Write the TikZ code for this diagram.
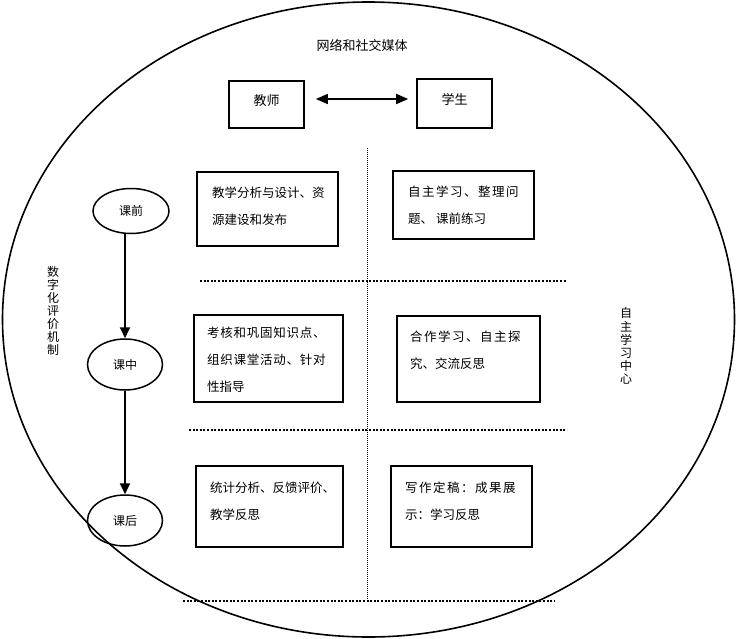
\documentclass[tikz,border=0pt]{standalone}
\usepackage{fontspec}
\setmainfont{Noto Sans CJK SC}
\newfontfamily\cjkw[LetterSpace=12]{Noto Sans CJK SC}
\newfontfamily\cjkm[LetterSpace=6]{Noto Sans CJK SC}
\usetikzlibrary{arrows.meta,shapes.geometric,calc}
\begin{document}
\begin{tikzpicture}[x=1pt,y=-1pt,
  box/.style={draw,line width=1.6pt,inner sep=0pt,rectangle},
  oval/.style={draw,line width=1.5pt,ellipse,inner sep=0pt,minimum width=75pt,minimum height=50pt,font=\fontsize{12}{14}\selectfont},
  txt/.style={inner sep=0pt,anchor=north west,align=left,font=\fontsize{12.5}{27}\selectfont},
  vtxt/.style={inner sep=0pt,align=center,font=\fontsize{12}{13.1}\selectfont},
  hdot/.style={line width=2.6pt,dash pattern=on 2pt off 1.6pt},
  vdot/.style={line width=1pt,dash pattern=on 1pt off 1pt},
  arr/.style={line width=1.8pt,-{Triangle[length=11pt,width=10pt]}},
  darr/.style={line width=1.7pt,{Triangle[length=12pt,width=10pt]}-{Triangle[length=12pt,width=10pt]}}
]
\useasboundingbox (0,0) rectangle (736,639);
% outer ellipse
\draw[line width=1.6pt] (368.5,319.5) ellipse [x radius=366, y radius=317.5];

% header
\node[font=\fontsize{13}{15}\selectfont,inner sep=0pt] (net) at (362,45) {网络和社交媒体};
\node[box,minimum width=75pt,minimum height=47pt,font=\fontsize{13}{15}\selectfont,text height=11pt,text depth=8pt] (teacher) at (266.5,104.5) {教师};
\node[box,minimum width=75pt,minimum height=49pt,font=\fontsize{13}{15}\selectfont,text height=11pt,text depth=8pt] (student) at (454.5,103.5) {学生};
\draw[darr] ($(teacher.east)+(11,-5.5)$) -- ($(student.west)+(-8,-4.5)$);

% side texts
\node[vtxt] (eval) at (53,311) {数\\字\\化\\评\\价\\机\\制};
\node[vtxt] (center) at (626,346) {自\\主\\学\\习\\中\\心};

% phases
\node[oval,minimum width=76pt,minimum height=45pt] (before) at (131,211) {课前};
\node[oval,minimum height=51pt] (mid) at (125,364.5) {课中};
\node[oval,minimum height=51pt] (after) at (125,520.5) {课后};
\draw[arr] (before.south -| mid.north) -- (mid.north);
\draw[arr] (mid.south) -- (after.north);

% separators
\draw[vdot] (367,148) -- (367,600);
\draw[hdot] (200,281) -- (567,281);
\draw[hdot] (189,430) -- (567,430);
\draw[hdot] (183,601) -- (555,601);

% boxes
\node[box,minimum width=141pt,minimum height=74pt] (b1) at (267.5,209) {};
\node[box,minimum width=141pt,minimum height=68pt] (b2) at (463.5,205) {};
\node[box,minimum width=149pt,minimum height=87pt] (b3) at (268.5,358.5) {};
\node[box,minimum width=143pt,minimum height=86pt] (b4) at (468.5,359) {};
\node[box,minimum width=147pt,minimum height=81pt] (b5) at (269.5,506.5) {};
\node[box,minimum width=141pt,minimum height=81pt] (b6) at (461.5,506.5) {};

% box texts
\node[txt] (t1) at (212,187) {教学分析与设计、资\\源建设和发布};
\node[txt] (t2) at (408,186) {{\cjkw 自主学习、整理问}\\题、 课前练习};
\node[txt] (t3) at (207,327) {{\cjkm 考核和巩固知识点、}\\{\cjkm 组织课堂活动、针对}\\性指导};
\node[txt] (t4) at (410,331) {{\cjkw 合作学习、自主探}\\究、交流反思};
\node[txt] (t5) at (210,481.5) {统计分析、反馈评价、\\教学反思};
\node[txt] (t6) at (405,481.5) {{\cjkw 写作定稿：成果展}\\示：学习反思};
\end{tikzpicture}
\end{document}
